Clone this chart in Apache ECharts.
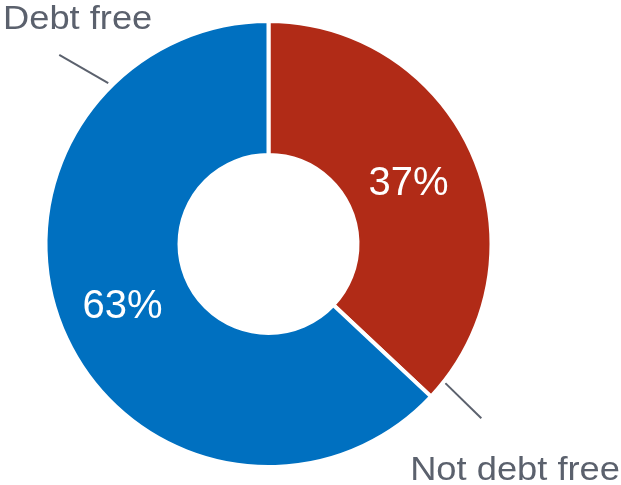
<!DOCTYPE html>
<html>
<head>
<meta charset="utf-8">
<script src="https://cdn.jsdelivr.net/npm/echarts@6/dist/echarts.min.js"></script>
<style>
  html, body { margin: 0; padding: 0; background: #fff; }
  #chart { width: 621px; height: 485px; }
</style>
</head>
<body>
<div id="chart"></div>
<script>
// Share of respondents by debt status
const categories = ['Not debt free', 'Debt free'];
const shares = [37, 63];
const sliceColors = ['#B12B17', '#0070C0'];

const chart = echarts.init(document.getElementById('chart'), null, { renderer: 'canvas' });

const cx = 268.5, cy = 244;
const outerR = 223, innerR = 89;
const labelGray = '#5B616D';

// point at a clockwise angle (degrees from 12 o'clock) and radius
function polar(deg, r) {
  const a = deg * Math.PI / 180;
  return [cx + r * Math.sin(a), cy - r * Math.cos(a)];
}

// outside category labels with short leader lines
const outside = [
  { name: categories[1], from: polar(315.1, 227), to: polar(312.1, 282), text: [3, 36.5], align: 'left' },
  { name: categories[0], from: polar(128.2, 225), to: polar(129.3, 275), text: [620, 487], align: 'right' }
];

const graphics = [];
outside.forEach(o => {
  graphics.push({
    type: 'line',
    shape: { x1: o.from[0], y1: o.from[1], x2: o.to[0], y2: o.to[1] },
    style: { stroke: labelGray, lineWidth: 2 }
  });
  graphics.push({
    type: 'text',
    x: o.text[0], y: o.text[1],
    scaleX: 1.1,
    style: {
      text: o.name,
      fill: labelGray,
      font: '33px "Liberation Sans", Arial, sans-serif',
      textAlign: o.align,
      textVerticalAlign: 'bottom'
    }
  });
});

chart.setOption({
  animation: false,
  backgroundColor: '#ffffff',
  graphic: graphics,
  series: [{
    type: 'pie',
    center: [cx, cy],
    radius: [innerR, outerR],
    startAngle: 90,
    clockwise: true,
    avoidLabelOverlap: false,
    itemStyle: { borderColor: '#ffffff', borderWidth: 4 },
    label: {
      show: true,
      position: 'inside',
      formatter: p => p.value + '%',
      color: '#ffffff',
      fontFamily: '"Liberation Sans", Arial, sans-serif',
      fontSize: 40
    },
    labelLine: { show: false },
    emphasis: { disabled: true },
    data: categories.map((c, i) => ({
      name: c,
      value: shares[i],
      itemStyle: { color: sliceColors[i] },
      label: i === 0 ? { offset: [-6, 3] } : {}
    }))
  }]
});
</script>
</body>
</html>
